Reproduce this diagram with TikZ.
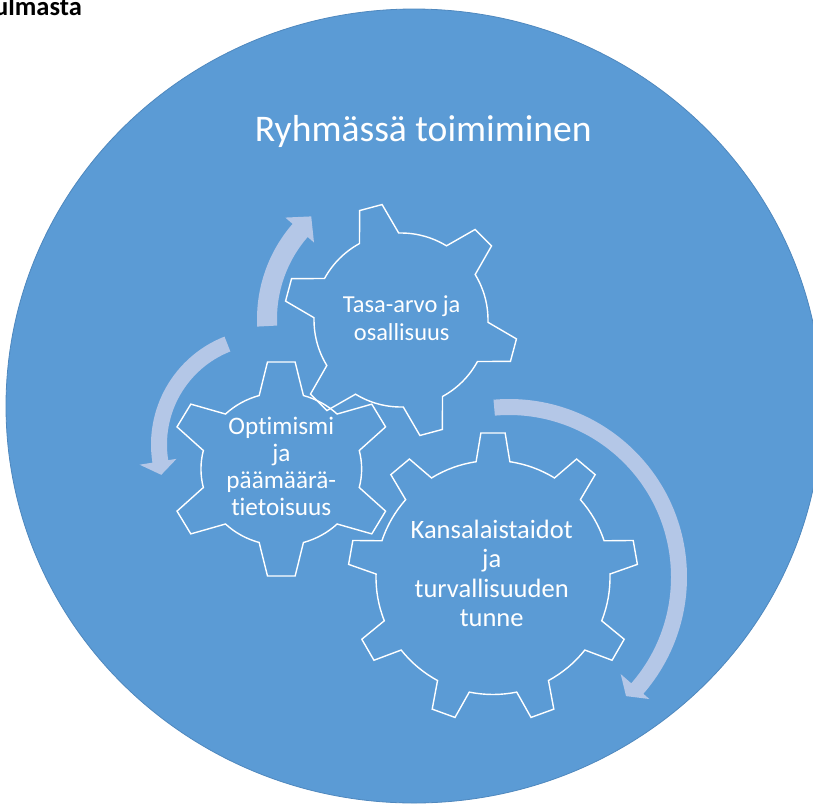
\documentclass[tikz,border=0pt]{standalone}
\usepackage{fontspec}
\setmainfont{Carlito}[RawFeature={-liga}]
\definecolor{bgblue}{HTML}{5B9BD5}
\definecolor{bgedge}{HTML}{4F88BE}
\definecolor{arrfill}{HTML}{B4C7E7}
\newcommand\gearshape[9]{% cx, cy, teeth, offset, root r, tip r, base half-angle, tip half-angle, extra scope options
  \begin{scope}[shift={(#1,#2)},#9]
    \draw[gearline] ({#4-#7}:#5)
      \foreach \k [evaluate=\k as \t using {#4+(\k-1)*360/#3}] in {1,...,#3} {
        -- ({\t-#8}:#6) -- ({\t+#8}:#6) -- ({\t+#7}:#5)
        arc[start angle={\t+#7}, end angle={\t+360/#3-#7}, radius=#5]
      } -- cycle;
  \end{scope}}
\begin{document}
\begin{tikzpicture}[x=1pt,y=-1pt,
  gearline/.style={draw=white, line width=1.4pt, line join=miter},
  arrowfill/.style={fill=arrfill, draw=none},
  lbl/.style={text=white, inner sep=0pt, anchor=base},
  gearone/.style={lbl, font=\fontsize{24.4}{29}\selectfont},
  geartwo/.style={lbl, font=\fontsize{25.2}{30}\selectfont},
  gearthree/.style={lbl, font=\fontsize{26.5}{31}\selectfont}]
\useasboundingbox (0,0) rectangle (813,804);
\clip (0,0) rectangle (813,804);

% background disc
\fill[bgblue, draw=bgedge, line width=0.8pt] (414,406) ellipse [x radius=408, y radius=397];

% caption fragment
\node[anchor=base west, inner sep=0pt, font=\bfseries\fontsize{26.5}{31}\selectfont] (caption) at (-6,15) {ulmasta};

% title
\node[lbl, font=\fontsize{37.6}{45}\selectfont] (title) at (423.3,141) {Ryhmässä toimiminen};

% circular arrows
\begin{scope}[shift={(402,319)}]
  \fill[arrowfill] (177:145) arc[start angle=177, end angle=221, radius=145]
    -- (221:154.6) -- (228.5:137) -- (221:116.6) -- (221:125)
    arc[start angle=221, end angle=177, radius=125] -- cycle;
\end{scope}
\begin{scope}[shift={(267,444.5)}]
  \fill[arrowfill] (248.5:116) arc[start angle=248.5, end angle=171, radius=116]
    -- (171:129) -- (164:110) -- (171:91.6) -- (171:100)
    arc[start angle=171, end angle=248.5, radius=100] -- cycle;
\end{scope}
\begin{scope}[shift={(509,577)}]
  \fill[arrowfill] (265:178) arc[start angle=265, end angle=401, radius=178]
    -- (401:186) -- (405.5:167) -- (401:148) -- (401:162)
    arc[start angle=401, end angle=265, radius=162] -- cycle;
\end{scope}

% gears
\gearshape{401}{320}{6}{15}{87}{117}{13.5}{5.7}{}
\gearshape{281.3}{469}{6}{30}{78}{110}{16}{7}{xscale=1.03,yscale=0.98}
\gearshape{493}{577.5}{9}{270}{117}{145}{8.3}{4.8}{}

% gear texts
\node[gearone] (t1a) at (401.7,312.3) {Tasa-arvo ja};
\node[gearone] (t1b) at (401.7,340.7) {osallisuus};

\node[geartwo] (t2a) at (281.3,434) {Optimismi};
\node[geartwo] (t2b) at (281.3,461.5) {ja};
\node[geartwo] (t2c) at (281.3,488.5) {päämäärä-};
\node[geartwo] (t2d) at (281.3,515.5) {tietoisuus};

\node[gearthree] (t3a) at (491.7,538.3) {Kansalaistaidot};
\node[gearthree] (t3b) at (491.7,567) {ja};
\node[gearthree] (t3c) at (491.7,597) {turvallisuuden};
\node[gearthree] (t3d) at (491.7,626.7) {tunne};
\end{tikzpicture}
\end{document}
